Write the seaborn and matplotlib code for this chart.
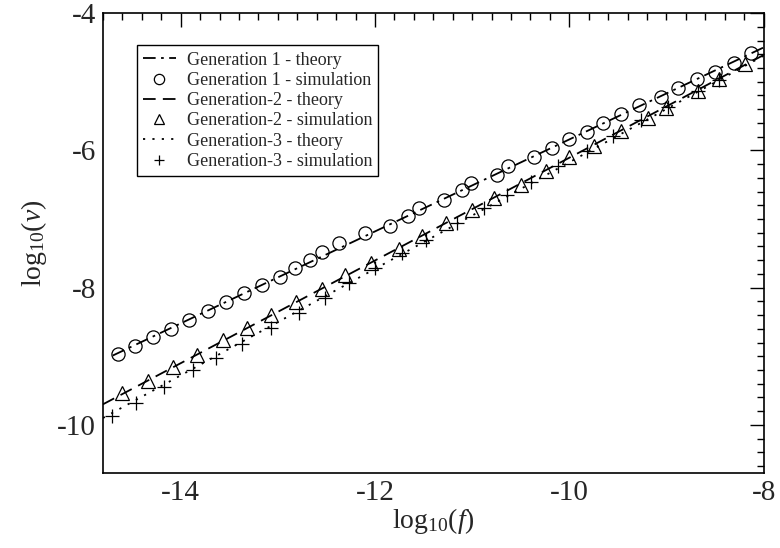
import matplotlib
matplotlib.use("Agg")
import matplotlib.pyplot as plt
from matplotlib.ticker import MultipleLocator
import seaborn as sns

# ---- data ----
gen1_theory_x = [-14.70, -8.00]
gen1_theory_y = [-8.99, -4.50]
gen1_sim_x = [-14.649, -14.470, -14.281, -14.099, -13.910, -13.721, -13.535, -13.353,
              -13.164, -12.975, -12.828, -12.666, -12.545, -12.374, -12.099, -11.850,
              -11.663, -11.550, -11.292, -11.102, -11.017, -10.741, -10.632, -10.364,
              -10.183, -10.003, -9.813, -9.652, -9.470, -9.281, -9.058, -8.886,
              -8.690, -8.498, -8.308, -8.130]
gen1_sim_y = [-8.960, -8.844, -8.717, -8.596, -8.466, -8.335, -8.214, -8.077,
              -7.956, -7.844, -7.714, -7.593, -7.480, -7.350, -7.205, -7.098,
              -6.963, -6.841, -6.720, -6.575, -6.468, -6.356, -6.225, -6.099,
              -5.968, -5.833, -5.726, -5.595, -5.474, -5.338, -5.227, -5.096,
              -4.965, -4.863, -4.723, -4.586]

gen2_theory_x = [-14.80, -8.00]
gen2_theory_y = [-9.70, -4.61]
gen2_sim_x = [-14.601, -14.339, -14.075, -13.828, -13.566, -13.319, -13.068, -12.810,
              -12.550, -12.305, -12.037, -11.756, -11.514, -11.274, -11.006, -10.776,
              -10.501, -10.243, -10.003, -9.745, -9.470, -9.195, -9.006, -8.679,
              -8.457, -8.189]
gen2_sim_y = [-9.542, -9.363, -9.154, -8.975, -8.767, -8.586, -8.393, -8.208,
              -8.017, -7.821, -7.641, -7.433, -7.254, -7.059, -6.865, -6.696,
              -6.502, -6.294, -6.099, -5.935, -5.716, -5.523, -5.386, -5.130,
              -4.964, -4.746]

gen3_theory_x = [-14.80, -8.00]
gen3_theory_y = [-9.90, -4.62]
gen3_sim_x = [-14.711, -14.460, -14.168, -13.869, -13.638, -13.364, -13.068, -12.787,
              -12.516, -12.271, -12.003, -11.721, -11.470, -11.161, -10.879, -10.638,
              -10.398, -10.115, -9.813, -9.549, -9.257, -8.989, -8.679, -8.457]
gen3_sim_y = [-9.872, -9.677, -9.444, -9.203, -9.023, -8.819, -8.586, -8.368,
              -8.150, -7.932, -7.714, -7.495, -7.302, -7.059, -6.841, -6.657,
              -6.454, -6.224, -6.003, -5.789, -5.556, -5.372, -5.130, -4.975]

labels = ["Generation 1 - theory", "Generation 1 - simulation",
          "Generation-2 - theory", "Generation-2 - simulation",
          "Generation-3 - theory", "Generation-3 - simulation"]

x_ticks = [-14, -12, -10, -8]
y_ticks = [-10, -8, -6, -4]

# ---- style ----
sns.set_theme(style="white")
plt.rcParams["font.family"] = ["Liberation Serif", "DejaVu Serif"]
plt.rcParams["mathtext.fontset"] = "custom"
plt.rcParams["mathtext.rm"] = "Liberation Serif"
plt.rcParams["mathtext.it"] = "Liberation Serif:italic"
plt.rcParams["mathtext.bf"] = "Liberation Serif:bold"

fig = plt.figure(figsize=(7.8, 5.48), dpi=100)
ax = fig.add_axes([0.132, 0.137, 0.847, 0.839])

lw = 1.3
sns.lineplot(x=gen1_theory_x, y=gen1_theory_y, ax=ax, color="black", lw=lw,
             linestyle=(0, (7, 3, 1.5, 3)), label=labels[0], sort=False, estimator=None)
sns.lineplot(x=gen1_sim_x, y=gen1_sim_y, ax=ax, color="black", linestyle="",
             marker="o", markersize=9.5, markerfacecolor="none", markeredgecolor="black",
             markeredgewidth=0.9, label=labels[1], sort=False, estimator=None)
sns.lineplot(x=gen2_theory_x, y=gen2_theory_y, ax=ax, color="black", lw=lw,
             linestyle=(0, (7, 4)), label=labels[2], sort=False, estimator=None)
sns.lineplot(x=gen2_sim_x, y=gen2_sim_y, ax=ax, color="black", linestyle="",
             marker="^", markersize=9.5, markerfacecolor="none", markeredgecolor="black",
             markeredgewidth=0.9, label=labels[3], sort=False, estimator=None)
sns.lineplot(x=gen3_theory_x, y=gen3_theory_y, ax=ax, color="black", lw=lw,
             linestyle=(0, (1.2, 4)), label=labels[4], sort=False, estimator=None)
sns.lineplot(x=gen3_sim_x, y=gen3_sim_y, ax=ax, color="black", linestyle="",
             marker="+", markersize=9.5, markeredgecolor="black",
             markeredgewidth=0.9, label=labels[5], sort=False, estimator=None)

ax.set_xlim(-14.8, -8)
ax.set_ylim(-10.7, -4)
ax.set_xticks(x_ticks)
ax.set_yticks(y_ticks)
ax.set_xticklabels([str(t) for t in x_ticks])
ax.set_yticklabels([str(t) for t in y_ticks])
ax.xaxis.set_minor_locator(MultipleLocator(0.2))
ax.yaxis.set_minor_locator(MultipleLocator(0.2))
ax.tick_params(which="both", direction="in", top=True, right=True, color="black",
               width=1.0)
ax.tick_params(which="major", length=10, labelsize=21, pad=5)
ax.tick_params(which="minor", length=5)
for s in ax.spines.values():
    s.set_color("black")
    s.set_linewidth(1.2)

ax.set_xlabel(r"log$_{10}$($f$)", fontsize=20, labelpad=0)
ax.set_ylabel(r"log$_{10}$($\nu$)", fontsize=20, labelpad=6)

leg = ax.legend(loc="upper left", bbox_to_anchor=(0.0514, 0.930), fontsize=13,
                frameon=True, fancybox=False, edgecolor="black", framealpha=1,
                handlelength=1.8, labelspacing=0.18, borderpad=0.35,
                handletextpad=0.6, borderaxespad=0, markerscale=0.78)
leg.get_frame().set_linewidth(1.0)

fig.savefig("out.png", dpi=100)
